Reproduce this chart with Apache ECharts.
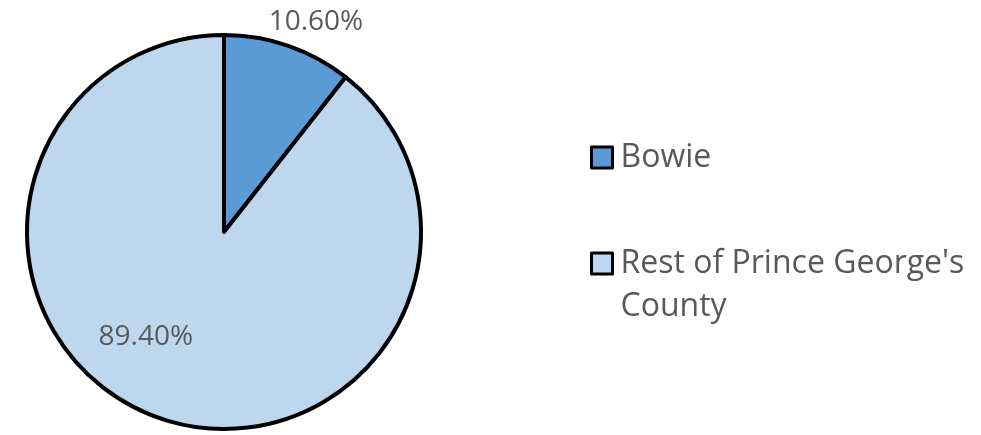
<!DOCTYPE html>
<html>
<head>
<meta charset="utf-8">
<script src="https://cdn.jsdelivr.net/npm/echarts@6/dist/echarts.min.js"></script>
<style>
  html, body { margin: 0; padding: 0; background: #fff; }
  #chart { width: 981px; height: 435px; }
</style>
</head>
<body>
<div id="chart"></div>
<script>
// Share of the county, by area
const categories = ['Bowie', "Rest of Prince George's County"];
const shares = [10.6, 89.4];
const colors = ['#5B9BD5', '#BDD7EE'];
// Legend text, wrapped the way it is printed
const legendText = ['Bowie', "\nRest of Prince George's\nCounty"];

const FONT = '"Open Sans", sans-serif';
const TEXT = '#595959';

const chart = echarts.init(document.getElementById('chart'), null, { renderer: 'canvas' });

const pieData = categories.map((name, i) => ({
  name,
  value: shares[i],
  itemStyle: { color: colors[i] },
  label: i === 0
    ? { position: 'outside', offset: [-26, -20] }
    : { position: 'inside', offset: [-45, 9] },
  labelLine: { show: false }
}));

const legendBase = {
  orient: 'vertical',
  left: 590,
  padding: 0,
  icon: 'rect',
  itemWidth: 21,
  itemHeight: 21,
  itemGap: 0,
  itemStyle: { borderColor: '#000', borderWidth: 3 },
  textStyle: { fontFamily: FONT, fontSize: 32, color: TEXT, lineHeight: 43, padding: [0, 0, 0, 3] },
  selectedMode: false
};

chart.setOption({
  animation: false,
  backgroundColor: '#fff',
  legend: [
    Object.assign({}, legendBase, { top: 136, data: [categories[0]], formatter: () => legendText[0] }),
    Object.assign({}, legendBase, { top: 199, data: [categories[1]], formatter: () => legendText[1] })
  ],
  series: [{
    type: 'pie',
    center: [224, 232],
    radius: 197,
    startAngle: 90,
    clockwise: true,
    avoidLabelOverlap: false,
    itemStyle: { borderColor: '#000', borderWidth: 4 },
    label: {
      formatter: p => p.value.toFixed(2) + '%',
      fontFamily: FONT,
      fontSize: 28,
      color: TEXT
    },
    labelLine: { show: false, length: 4, length2: 0 },
    emphasis: { disabled: true },
    data: pieData
  }]
});
</script>
</body>
</html>
